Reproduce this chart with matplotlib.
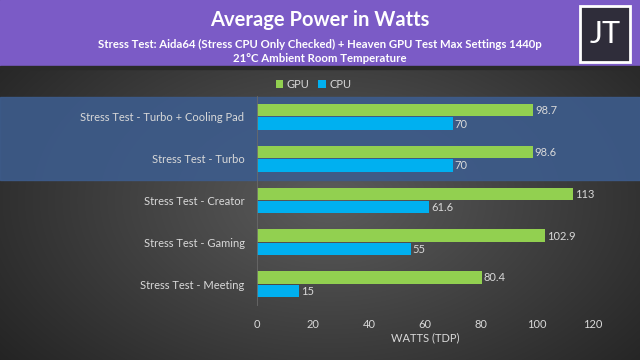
import numpy as np
import matplotlib
matplotlib.use('Agg')
import matplotlib.pyplot as plt
from matplotlib.patches import Rectangle

# ── DATA ─────────────────────────────────────────────────────────────────────
categories = ["Stress Test - Turbo + Cooling Pad", "Stress Test - Turbo",
              "Stress Test - Creator", "Stress Test - Gaming",
              "Stress Test - Meeting"]
gpu_watts = [98.7, 98.6, 113, 102.9, 80.4]
cpu_watts = [70, 70, 61.6, 55, 15]
gpu_labels = ["98.7", "98.6", "113", "102.9", "80.4"]
cpu_labels = ["70", "70", "61.6", "55", "15"]
x_ticks = [0, 20, 40, 60, 80, 100, 120]

# ── COLORS ───────────────────────────────────────────────────────────────────
HEADER   = "#7B5BC6"
BAND     = "#3D5C8C"
GPU_COL  = "#92D050"
CPU_COL  = "#00B0F0"
TEXT_COL = "#D9D9D9"
FONT     = ["Lato", "DejaVu Sans"]

plt.rcParams['font.family'] = FONT

fig = plt.figure(figsize=(6.4, 3.6), dpi=100)

# background: radial grey gradient
bg = fig.add_axes([0, 0, 1, 1])
yy, xx = np.mgrid[0:360, 0:640]
r = np.sqrt(((xx - 330) / 420.0) ** 2 + ((yy - 200) / 260.0) ** 2)
shade = np.clip(0.36 - 0.22 * r, 0.12, 0.36)
bg.imshow(np.dstack([shade, shade, shade]), extent=[0, 1, 0, 1],
          aspect='auto', origin='upper')
bg.set_xlim(0, 1)
bg.set_ylim(0, 1)
bg.axis('off')

# header
bg.add_patch(Rectangle((0, 1 - 66 / 360), 1, 66 / 360, color=HEADER, zorder=2))
bg.add_patch(Rectangle((0, 1 - 69 / 360), 1, 3 / 360, color="#2A2A2A", zorder=2))
# highlighted band
bg.add_patch(Rectangle((0, 1 - 180 / 360), 1, 83 / 360, color=BAND,
                       alpha=0.9, zorder=2))

fig.text(0.5, 1 - 20 / 360, "Average Power in Watts", ha='center', va='center',
         color='white', fontsize=14.5, fontweight='bold')
fig.text(0.5, 1 - 44 / 360,
         "Stress Test: Aida64 (Stress CPU Only Checked) + Heaven GPU Test Max Settings 1440p",
         ha='center', va='center', color='white', fontsize=8.2, fontweight='bold')
fig.text(0.5, 1 - 58 / 360, "21°C Ambient Room Temperature", ha='center',
         va='center', color='white', fontsize=8.2, fontweight='bold')

# logo
bg.add_patch(Rectangle((580 / 640, 1 - 62 / 360), 50 / 640, 56 / 360,
                       facecolor="#2F2D3A", edgecolor='white', lw=2, zorder=3))
fig.text(605 / 640, 1 - 34 / 360, "JT", ha='center', va='center',
         color='white', fontsize=22, zorder=4)

# ── BAR CHART ────────────────────────────────────────────────────────────────
ax = fig.add_axes([257 / 640, 1 - 305 / 360, 336 / 640, 209 / 360])
ax.set_facecolor('none')
y = np.arange(len(categories))
h = 0.3
ax.barh(y - h / 2 - 0.01, gpu_watts, height=h, color=GPU_COL, label="GPU")
ax.barh(y + h / 2 + 0.01, cpu_watts, height=h, color=CPU_COL, label="CPU")
for yi, v, s in zip(y, gpu_watts, gpu_labels):
    ax.text(v + 0.6, yi - h / 2, s, va='center', ha='left',
            color=TEXT_COL, fontsize=8)
for yi, v, s in zip(y, cpu_watts, cpu_labels):
    ax.text(v + 0.6, yi + h / 2 + 0.02, s, va='center', ha='left',
            color=TEXT_COL, fontsize=8)

ax.set_xlim(0, 120)
ax.set_ylim(len(categories) - 0.5, -0.5)
ax.set_xticks(x_ticks)
ax.set_yticks(y)
ax.set_yticklabels(categories)
ax.tick_params(axis='both', length=0, colors=TEXT_COL, labelsize=8)
ax.tick_params(axis='y', pad=9)
ax.tick_params(axis='x', pad=10)
for side in ['top', 'right', 'bottom']:
    ax.spines[side].set_visible(False)
ax.spines['left'].set_color("#6A6A6A")
ax.spines['left'].set_linewidth(0.6)
ax.set_xlabel("WATTS (TDP)", color=TEXT_COL, fontsize=8, labelpad=2)

fig.legend(loc='center', bbox_to_anchor=(0.49, 1 - 84 / 360), ncol=2,
           frameon=False, fontsize=8, labelcolor=TEXT_COL, handlelength=0.7,
           handleheight=0.7, handletextpad=0.3, columnspacing=0.8)

fig.savefig("out.png", dpi=100)
